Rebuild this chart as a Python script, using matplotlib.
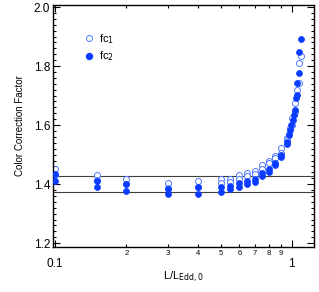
import numpy as np
import matplotlib
matplotlib.use("Agg")
import matplotlib.pyplot as plt
from matplotlib.ticker import FixedLocator, FixedFormatter, MultipleLocator

plt.rcParams['font.family'] = ['Liberation Sans', 'DejaVu Sans']

# shared x grid for the flat part
x_base = [0.1, 0.15, 0.2, 0.3, 0.4, 0.5, 0.55, 0.6, 0.65, 0.7, 0.75, 0.8, 0.85, 0.9]

# fc1 (open), two runs
fc1a_x = x_base + [0.95, 0.98, 1.005, 1.034, 1.07, 1.09]
fc1a_y = [1.451, 1.432, 1.417, 1.404, 1.411, 1.416, 1.419, 1.431, 1.439, 1.445,
          1.465, 1.478, 1.495, 1.523, 1.557, 1.590, 1.625, 1.674, 1.809, 1.834]
fc1b_x = x_base + [0.95, 0.975, 1.0, 1.028, 1.053, 1.07]
fc1b_y = [1.432, 1.415, 1.400, 1.386, 1.392, 1.405, 1.408, 1.419, 1.428, 1.436,
          1.453, 1.470, 1.487, 1.507, 1.548, 1.570, 1.600, 1.645, 1.719, 1.741]

# fc2 (filled), two runs
fc2a_x = x_base + [0.95, 0.986, 1.009, 1.028, 1.053, 1.07, 1.09]
fc2a_y = [1.435, 1.411, 1.399, 1.384, 1.389, 1.390, 1.393, 1.403, 1.412, 1.419,
          1.438, 1.450, 1.472, 1.499, 1.543, 1.583, 1.617, 1.651, 1.741, 1.846, 1.891]
fc2b_x = x_base + [0.95, 0.977, 0.996, 1.018, 1.043, 1.053, 1.07]
fc2b_y = [1.412, 1.391, 1.377, 1.366, 1.368, 1.375, 1.382, 1.391, 1.401, 1.408,
          1.427, 1.442, 1.465, 1.491, 1.535, 1.566, 1.600, 1.634, 1.693, 1.702, 1.775]

hlines = [1.428, 1.373]

minor_x = [0.2, 0.3, 0.4, 0.5, 0.6, 0.7, 0.8, 0.9]
minor_lab = ['2', '3', '4', '5', '6', '7', '8', '9']

blue = '#0a3cff'
light = '#4f78ff'

fig = plt.figure(figsize=(3.19, 2.92), dpi=100)
ax = fig.add_axes([0.166, 0.155, 0.818, 0.828])

for y in hlines:
    ax.axhline(y, color='0.25', lw=0.8, zorder=1)

ax.plot(fc1a_x, fc1a_y, 'o', ms=4.3, mfc='white', mec=light, mew=0.7, ls='none', zorder=2)
ax.plot(fc1b_x, fc1b_y, 'o', ms=4.3, mfc='white', mec=light, mew=0.7, ls='none', zorder=2)
ax.plot(fc2a_x, fc2a_y, 'o', ms=4.3, mfc=blue, mec=blue, mew=0.5, ls='none', zorder=3)
ax.plot(fc2b_x, fc2b_y, 'o', ms=4.3, mfc=blue, mec=blue, mew=0.5, ls='none', zorder=3)

# legend
ax.plot([], [], 'o', ms=4.3, mfc='white', mec=light, mew=0.7, ls='none', label='fc$_1$')
ax.plot([], [], 'o', ms=4.3, mfc=blue, mec=blue, ls='none', label='fc$_2$')
h, l = ax.get_legend_handles_labels()
ax.legend(h[-2:], l[-2:], loc='upper left', bbox_to_anchor=(0.075, 0.93), frameon=False,
          fontsize=8, handletextpad=0.3, labelspacing=0.35, handlelength=1.2)

ax.set_xscale('log')
ax.set_xlim(0.098, 1.24)
ax.set_ylim(1.188, 2.007)

ax.xaxis.set_major_locator(FixedLocator([0.1, 1.0]))
ax.xaxis.set_major_formatter(FixedFormatter(['0.1', '1']))
ax.xaxis.set_minor_locator(FixedLocator(minor_x))
ax.xaxis.set_minor_formatter(FixedFormatter(minor_lab))
ax.yaxis.set_major_locator(FixedLocator([1.2, 1.4, 1.6, 1.8, 2.0]))
ax.yaxis.set_major_formatter(FixedFormatter(['1.2', '1.4', '1.6', '1.8', '2.0']))
ax.yaxis.set_minor_locator(MultipleLocator(0.02))

ax.tick_params(which='both', direction='in', top=True, right=True, width=0.8)
ax.tick_params(which='major', length=5)
ax.tick_params(which='minor', length=2.5)
ax.tick_params(axis='x', which='major', labelsize=8.5, pad=8)
ax.tick_params(axis='x', which='minor', labelsize=5.5, pad=2)
ax.tick_params(axis='y', which='major', labelsize=8.5, pad=2)
for s in ax.spines.values():
    s.set_linewidth(1.0)

ax.set_xlabel('L/L$_{\\rm Edd,0}$', fontsize=8, labelpad=0)
ax.set_ylabel('Color Correction Factor', fontsize=7, labelpad=6)

fig.savefig('out.png', dpi=100)
